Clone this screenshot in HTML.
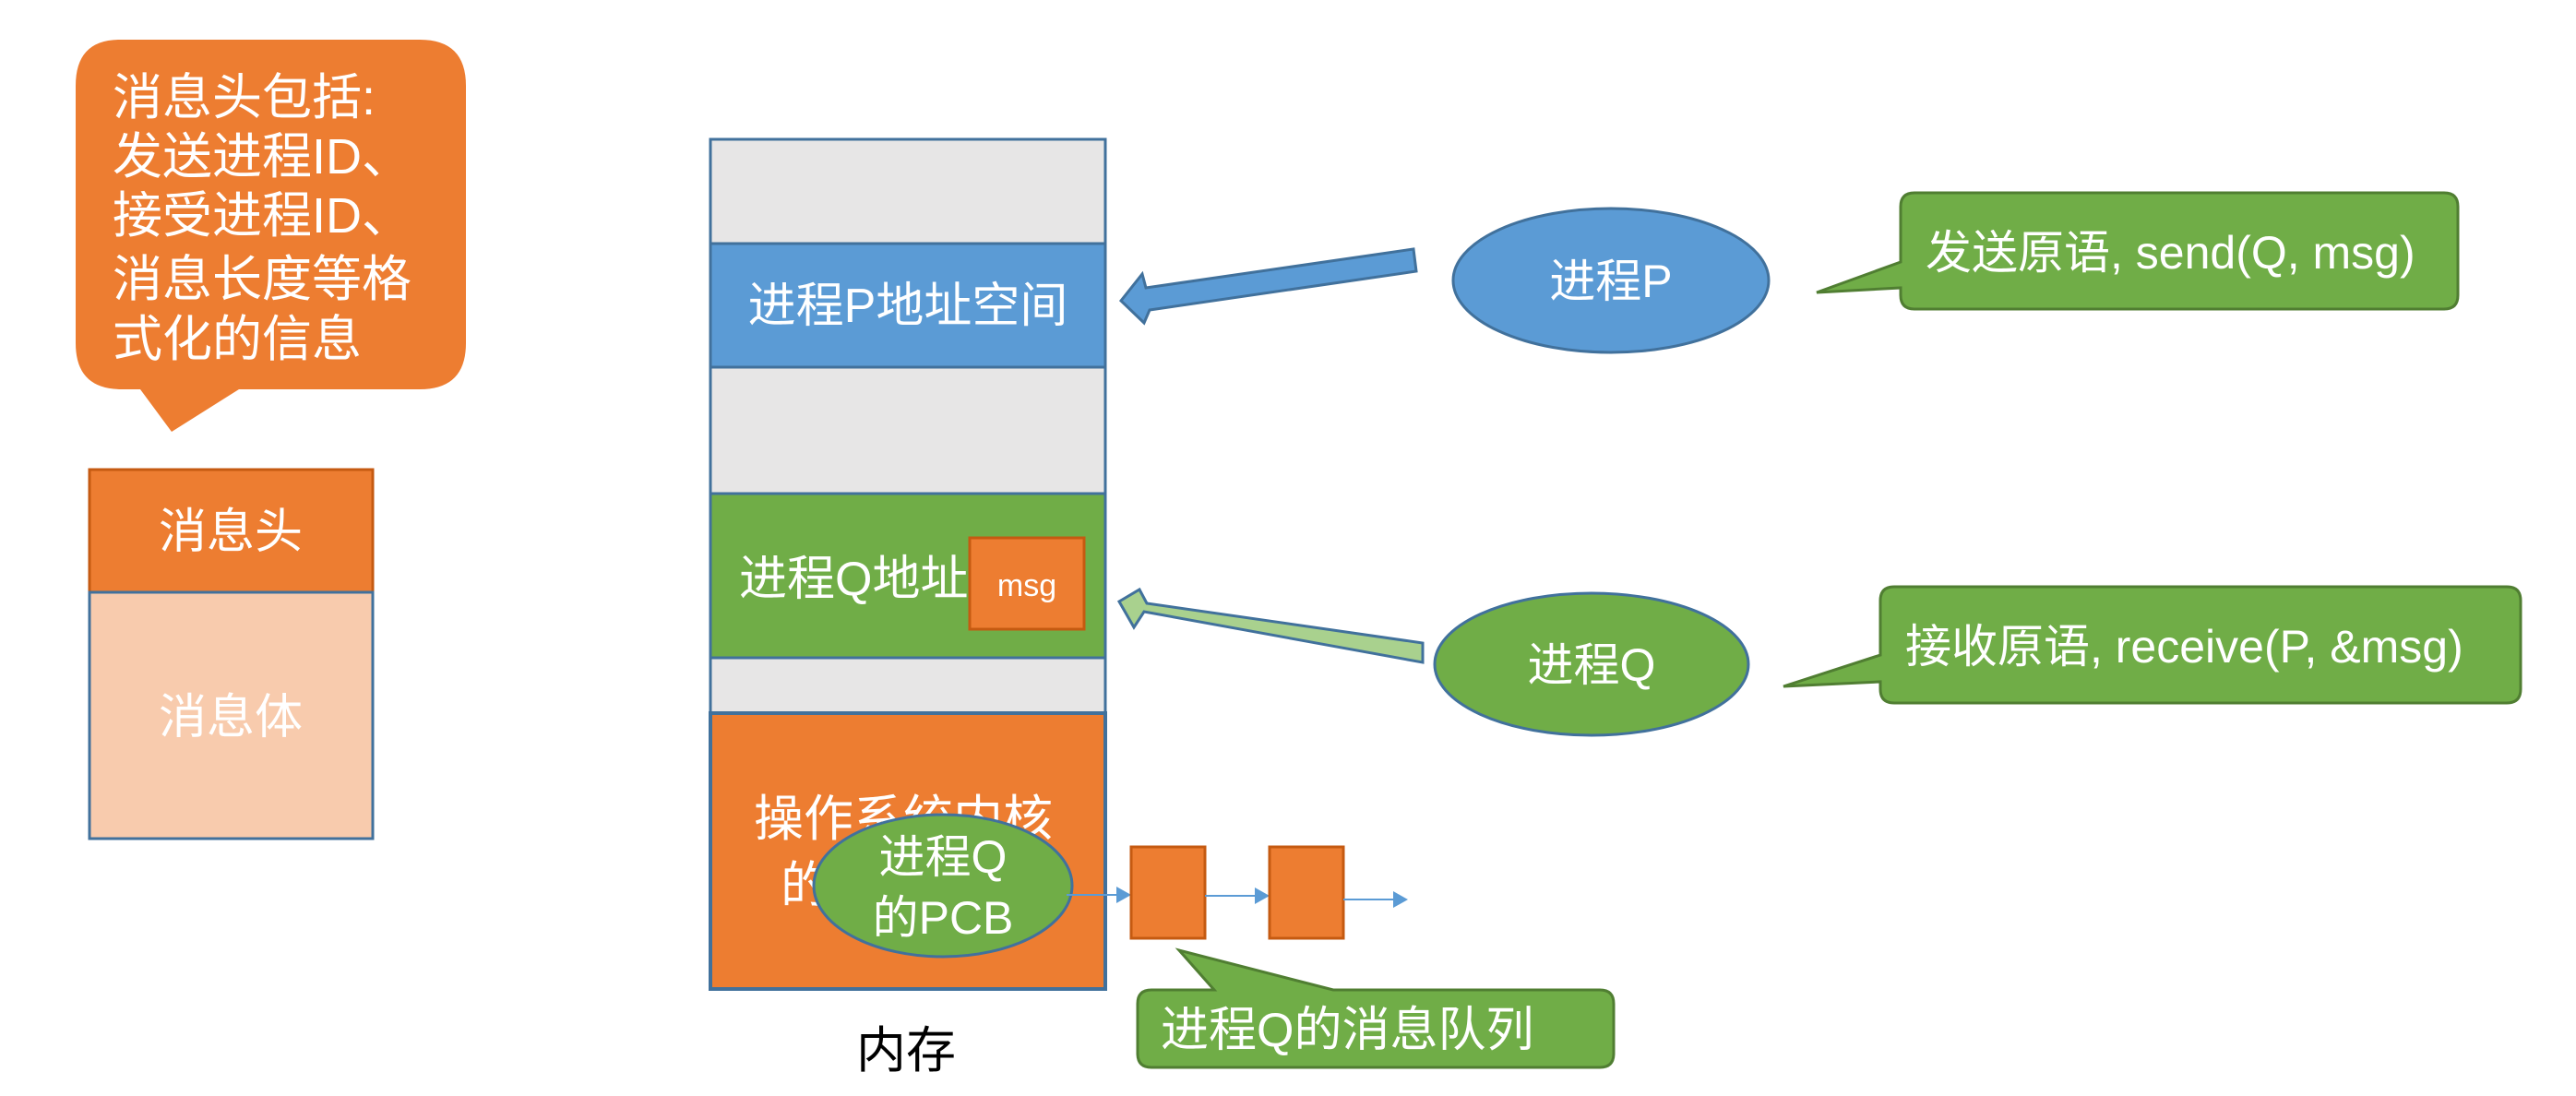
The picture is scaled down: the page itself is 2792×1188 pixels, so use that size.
<!DOCTYPE html>
<html><head><meta charset="utf-8"><style>
html,body{margin:0;padding:0;background:#fff;}
svg{display:block;}
text{font-family:"Liberation Sans","Noto Sans CJK SC",sans-serif;}
</style></head><body>
<svg width="2792" height="1188" viewBox="0 0 2792 1188" xmlns="http://www.w3.org/2000/svg">
<!-- orange callout -->
<path d="M130,43 H455 Q505,43 505,93 V372 Q505,422 455,422 H259 L186,468 L152,422 H132 Q82,422 82,372 V93 Q82,43 130,43 Z" fill="#ed7d31"/>
<g fill="#fff" font-size="54">
<text x="122" y="124">消息头包括:</text>
<text x="122" y="188">发送进程ID、</text>
<text x="122" y="252">接受进程ID、</text>
<text x="122" y="321">消息长度等格</text>
<text x="122" y="386">式化的信息</text>
</g>
<!-- message box -->
<rect x="97" y="509" width="307" height="133" fill="#ed7d31" stroke="#c55a11" stroke-width="3"/>
<rect x="97" y="642" width="307" height="267" fill="#f8cbad" stroke="#41719c" stroke-width="3"/>
<text x="250" y="594" fill="#fff" font-size="52" text-anchor="middle">消息头</text>
<text x="250" y="795" fill="#fff" font-size="52" text-anchor="middle">消息体</text>
<!-- memory -->
<rect x="770" y="151" width="428" height="921" fill="#e7e6e6" stroke="#41719c" stroke-width="3"/>
<rect x="770" y="264" width="428" height="134" fill="#5b9bd5" stroke="#41719c" stroke-width="3"/>
<rect x="770" y="535" width="428" height="178" fill="#70ad47" stroke="#41719c" stroke-width="3"/>
<rect x="770" y="773" width="428" height="299" fill="#ed7d31" stroke="#41719c" stroke-width="4"/>
<text x="984" y="349" fill="#fff" font-size="52" text-anchor="middle">进程P地址空间</text>
<text x="801" y="645" fill="#fff" font-size="52">进程Q地址</text>
<rect x="1051" y="583" width="124" height="99" fill="#ed7d31" stroke="#c55a11" stroke-width="3"/>
<text x="1113" y="646" fill="#fff" font-size="34" text-anchor="middle">msg</text>
<text x="817" y="906" fill="#fff" font-size="54">操作系统内核</text>
<text x="846" y="978" fill="#fff" font-size="54">的PCB</text>
<ellipse cx="1022" cy="960" rx="140" ry="77" fill="#70ad47" stroke="#41719c" stroke-width="3"/>
<text x="1022" y="946" fill="#fff" font-size="50" text-anchor="middle">进程Q</text>
<text x="1022" y="1012" fill="#fff" font-size="50" text-anchor="middle">的PCB</text>
<text x="982" y="1157" fill="#000" font-size="54" text-anchor="middle">内存</text>
<!-- queue -->
<line x1="1156" y1="970" x2="1212" y2="970" stroke="#5b9bd5" stroke-width="2"/>
<polygon points="1226,970 1210,961 1210,979" fill="#5b9bd5"/>
<rect x="1226" y="918" width="80" height="99" fill="#ed7d31" stroke="#c55a11" stroke-width="3"/>
<line x1="1306" y1="971" x2="1362" y2="971" stroke="#5b9bd5" stroke-width="2"/>
<polygon points="1376,971 1360,962 1360,980" fill="#5b9bd5"/>
<rect x="1376" y="918" width="80" height="99" fill="#ed7d31" stroke="#c55a11" stroke-width="3"/>
<line x1="1456" y1="975" x2="1512" y2="975" stroke="#5b9bd5" stroke-width="2"/>
<polygon points="1526,975 1510,966 1510,984" fill="#5b9bd5"/>
<!-- queue callout -->
<path d="M1248,1073 H1316 L1278,1030 L1445,1073 H1734 Q1749,1073 1749,1088 V1142 Q1749,1157 1734,1157 H1248 Q1233,1157 1233,1142 V1088 Q1233,1073 1248,1073 Z" fill="#70ad47" stroke="#507e32" stroke-width="3"/>
<text x="1258" y="1134" fill="#fff" font-size="52">进程Q的消息队列</text>
<!-- blue arrow -->
<polygon points="1532,270 1535,294 1246,336 1240,350 1215,326 1238,297 1242,312" fill="#5b9bd5" stroke="#41719c" stroke-width="3"/>
<ellipse cx="1746" cy="304" rx="171" ry="78" fill="#5b9bd5" stroke="#41719c" stroke-width="3"/>
<text x="1746" y="322" fill="#fff" font-size="50" text-anchor="middle">进程P</text>
<!-- send callout -->
<path d="M2075,209 H2649 Q2664,209 2664,224 V320 Q2664,335 2649,335 H2075 Q2060,335 2060,320 V312 L1969,317 L2060,284 V224 Q2060,209 2075,209 Z" fill="#70ad47" stroke="#507e32" stroke-width="3"/>
<text x="2087" y="291" fill="#fff" font-size="50">发送原语, send(Q, msg)</text>
<!-- green arrow -->
<polygon points="1542,697 1542,718 1240,663 1229,680 1213,652 1235,639 1243,654" fill="#a9d18e" stroke="#41719c" stroke-width="3"/>
<ellipse cx="1725" cy="720" rx="170" ry="77" fill="#70ad47" stroke="#41719c" stroke-width="3"/>
<text x="1725" y="738" fill="#fff" font-size="50" text-anchor="middle">进程Q</text>
<!-- receive callout -->
<path d="M2053,636 H2717 Q2732,636 2732,651 V747 Q2732,762 2717,762 H2053 Q2038,762 2038,747 V739 L1933,744 L2038,710 V651 Q2038,636 2053,636 Z" fill="#70ad47" stroke="#507e32" stroke-width="3"/>
<text x="2065" y="718" fill="#fff" font-size="50">接收原语, receive(P, &amp;msg)</text>
</svg>
</body></html>
